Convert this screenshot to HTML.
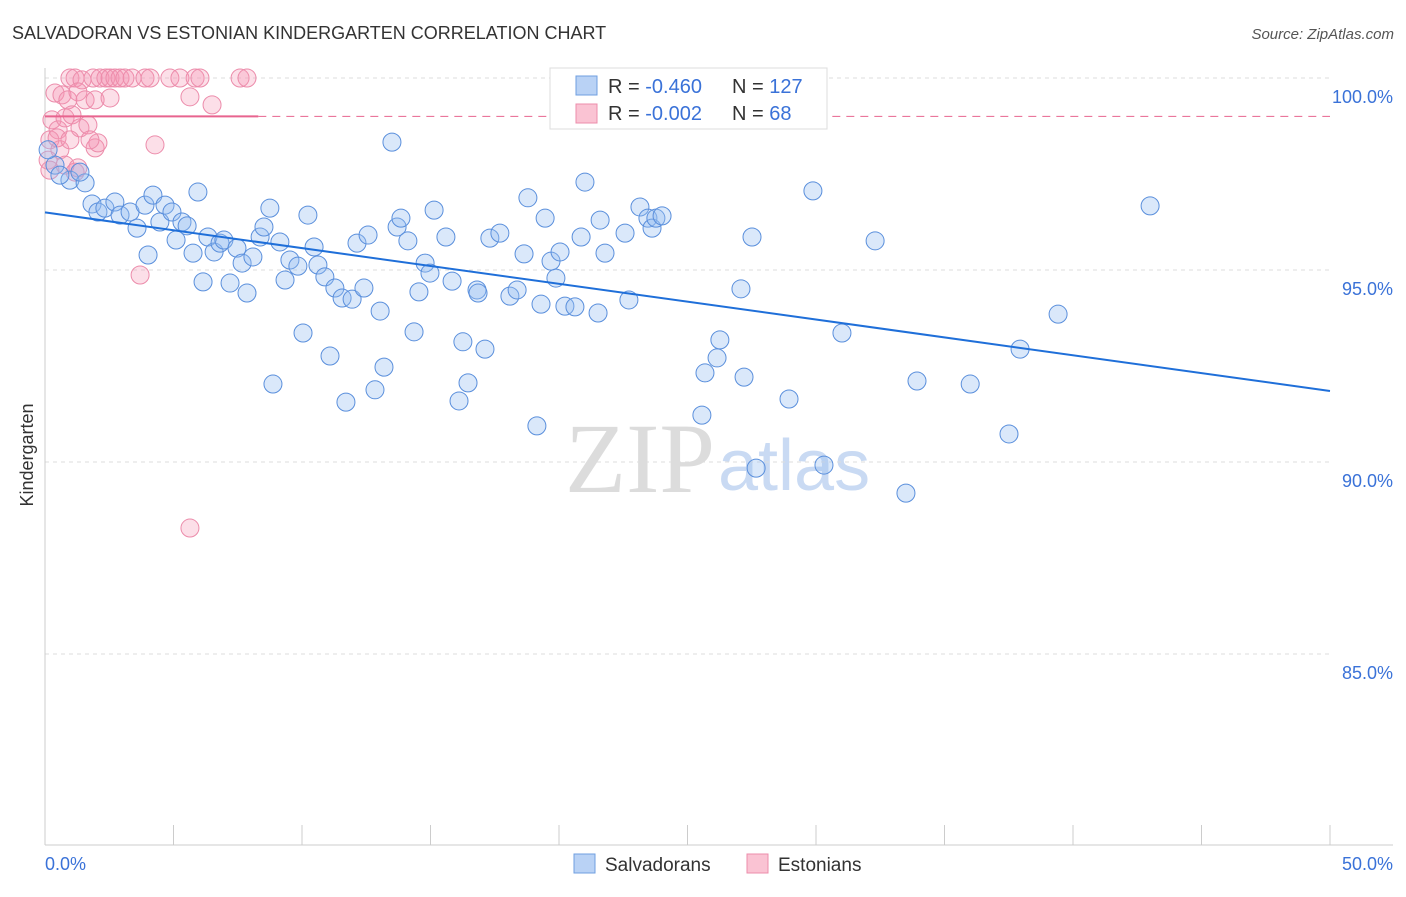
<!DOCTYPE html>
<html><head><meta charset="utf-8"><style>
body{margin:0;background:#fff;font-family:"Liberation Sans",sans-serif;}
</style></head><body>
<svg id="chart" width="1406" height="892" font-family="Liberation Sans, sans-serif">
<text x="12" y="39" font-size="18" fill="#333">SALVADORAN VS ESTONIAN KINDERGARTEN CORRELATION CHART</text>
<text x="1394" y="39" font-size="15" fill="#555" text-anchor="end" font-style="italic">Source: ZipAtlas.com</text>
<text x="715" y="492" font-size="100" fill="#dcdcdc" text-anchor="end" style="font-family:'Liberation Serif',serif">ZIP</text>
<text x="718" y="490" font-size="72" fill="#c9daf3">atlas</text>
<g id="grid"></g><g id="pts"></g><g id="lines"></g>
<text transform="translate(33,455) rotate(-90)" font-size="18" fill="#333" text-anchor="middle">Kindergarten</text>
<g>
<rect x="550" y="68" width="277" height="61" fill="#fff" stroke="#ddd"/>
<rect x="576" y="76" width="21" height="19" fill="#b9d2f5" stroke="#6f9fe0"/>
<text x="608" y="93" font-size="20" fill="#333">R = <tspan fill="#3a72d8">-0.460</tspan></text>
<text x="732" y="93" font-size="20" fill="#333">N = <tspan fill="#3a72d8">127</tspan></text>
<rect x="576" y="104" width="21" height="19" fill="#fac3d3" stroke="#ec8cab"/>
<text x="608" y="120" font-size="20" fill="#333">R = <tspan fill="#3a72d8">-0.002</tspan></text>
<text x="732" y="120" font-size="20" fill="#333">N = <tspan fill="#3a72d8"> 68</tspan></text>
</g>
<g>
<rect x="574" y="854" width="21" height="19" fill="#b9d2f5" stroke="#6f9fe0"/>
<text x="605" y="871" font-size="19" fill="#333">Salvadorans</text>
<rect x="747" y="854" width="21" height="19" fill="#fac3d3" stroke="#ec8cab"/>
<text x="778" y="871" font-size="19" fill="#333">Estonians</text>
</g>
</svg>
<script>
const bx=[0.39,0.97,1.56,1.36,1.83,2.06,2.33,2.72,2.92,3.31,3.58,4.01,3.89,4.20,4.47,4.67,4.94,5.10,5.33,5.53,5.76,5.95,6.15,6.34,6.58,6.81,6.96,7.20,7.47,7.67,7.86,8.09,8.37,8.52,8.75,8.87,9.14,9.34,9.53,9.84,10.04,10.23,10.47,10.62,10.89,11.09,11.28,11.56,11.71,11.95,12.14,12.41,12.57,12.84,13.04,13.19,13.70,13.85,14.12,14.36,14.55,14.79,14.98,15.14,15.60,15.84,16.11,16.26,16.46,16.81,16.85,17.12,17.31,17.70,18.09,18.37,18.64,18.79,19.14,19.30,19.46,19.69,19.88,20.04,20.23,20.62,20.86,21.01,21.52,21.60,21.79,22.57,22.72,23.15,23.46,23.62,23.77,24.01,25.56,25.68,26.15,26.26,27.08,27.20,27.51,27.67,28.95,29.88,30.31,31.01,32.30,33.50,33.93,36.00,37.51,37.94,39.42,43.00,0.12,0.58,24.9,13.5];
const by=[97.73,97.34,97.27,97.55,96.72,96.51,96.61,96.77,96.43,96.51,96.09,95.39,96.69,96.95,96.25,96.69,96.51,95.78,96.25,96.15,95.44,97.03,94.69,95.86,95.47,95.70,95.78,94.66,95.57,95.18,94.40,95.34,95.86,96.12,96.61,92.03,95.73,94.74,95.26,95.10,93.36,96.43,95.60,95.13,94.82,92.76,94.53,94.27,91.56,94.24,95.70,94.53,95.91,91.88,93.93,92.47,96.12,96.35,95.76,93.39,94.43,95.18,94.92,96.56,95.86,94.71,91.59,93.13,92.06,94.48,94.40,92.94,95.83,95.96,94.32,94.48,95.42,96.88,90.94,94.11,96.35,95.23,94.79,95.47,94.06,94.04,95.86,97.29,93.88,96.30,95.44,95.96,94.22,96.64,96.35,96.09,96.35,96.41,91.22,92.32,92.71,93.18,94.51,92.21,95.86,89.84,91.64,97.06,89.92,93.36,95.76,89.19,92.11,92.03,90.73,92.94,93.85,96.67,98.13,97.47,100,98.33];
const px=[0.39,0.97,1.17,1.44,1.87,2.14,2.37,2.53,2.72,2.92,3.11,3.39,3.89,4.09,4.86,5.25,5.84,6.03,7.59,7.86,0.66,0.89,1.28,1.56,1.95,2.53,5.64,6.50,0.27,0.51,0.78,1.05,1.36,1.67,0.19,0.58,0.12,0.19,0.78,1.17,1.28,1.95,2.06,4.28,3.70,5.64,0.47,1.75,0.97];
const py=[99.61,100,100,99.95,100,100,100,100,100,100,100,100,100,100,100,100,100,100,100,100,99.56,99.43,99.64,99.43,99.43,99.48,99.51,99.30,98.91,98.65,98.96,99.04,98.70,98.78,98.39,98.13,97.86,97.60,97.73,97.55,97.66,98.18,98.31,98.26,94.87,88.28,98.44,98.39,98.39];
const blueLine=[96.5,91.85], pinkLine=[99.0,99.0];
const yTicks=[100,95,90,85];
const X=v=>45+v/50*1285, Y=v=>78+(100-v)*38.4;
const NS="http://www.w3.org/2000/svg";
function mk(p,t,a){const e=document.createElementNS(NS,t);for(const k in a)e.setAttribute(k,a[k]);p.appendChild(e);return e;}
const g=document.getElementById('grid');
yTicks.forEach(t=>{
 const l=mk(g,'line',{x1:45,x2:1330,y1:Y(t),y2:Y(t),stroke:'#ddd','stroke-dasharray':'4,4'});
 
 
 const tx=mk(g,'text',{x:1393,y:Y(t)+25,'font-size':18,fill:'#3a72d8','text-anchor':'end'});tx.textContent=t.toFixed(1)+'%';
 
 
});
mk(g,'line',{x1:45,x2:45,y1:68,y2:845,stroke:'#ccc'});
mk(g,'line',{x1:45,x2:1393,y1:845,y2:845,stroke:'#ccc'});
for(let i=0;i<=10;i++){mk(g,'line',{x1:X(i*5),x2:X(i*5),y1:825,y2:845,stroke:'#ccc'});}
const x0=mk(g,'text',{x:45,y:870,'font-size':18,fill:'#3a72d8'});x0.textContent='0.0%';


const x1=mk(g,'text',{x:1393,y:870,'font-size':18,fill:'#3a72d8','text-anchor':'end'});x1.textContent='50.0%';


const pg=document.getElementById('pts');
px.forEach((v,i)=>{const c=mk(pg,'circle',{cx:X(v),cy:Y(py[i]),r:9,fill:'rgba(245,150,180,0.3)',stroke:'#ec8cab','stroke-width':1});
 
 });
bx.forEach((v,i)=>{const c=mk(pg,'circle',{cx:X(v),cy:Y(by[i]),r:9,fill:'rgba(150,190,240,0.35)',stroke:'#5a8fdc','stroke-width':1});
 
 });
const lg=document.getElementById('lines');
const bl=mk(lg,'line',{x1:X(0),y1:Y(blueLine[0]),x2:X(50),y2:Y(blueLine[1]),stroke:'#1f6fd9','stroke-width':2});


const pl=mk(lg,'line',{x1:X(0),y1:Y(pinkLine[0]),x2:X(8.3),y2:Y(pinkLine[0]),stroke:'#e8648f','stroke-width':2});


const pd=mk(lg,'line',{x1:X(8.3),y1:Y(pinkLine[0]),x2:X(50),y2:Y(pinkLine[1]),stroke:'#e8648f','stroke-width':1,'stroke-dasharray':'8,6'});


</script>
</body></html>
